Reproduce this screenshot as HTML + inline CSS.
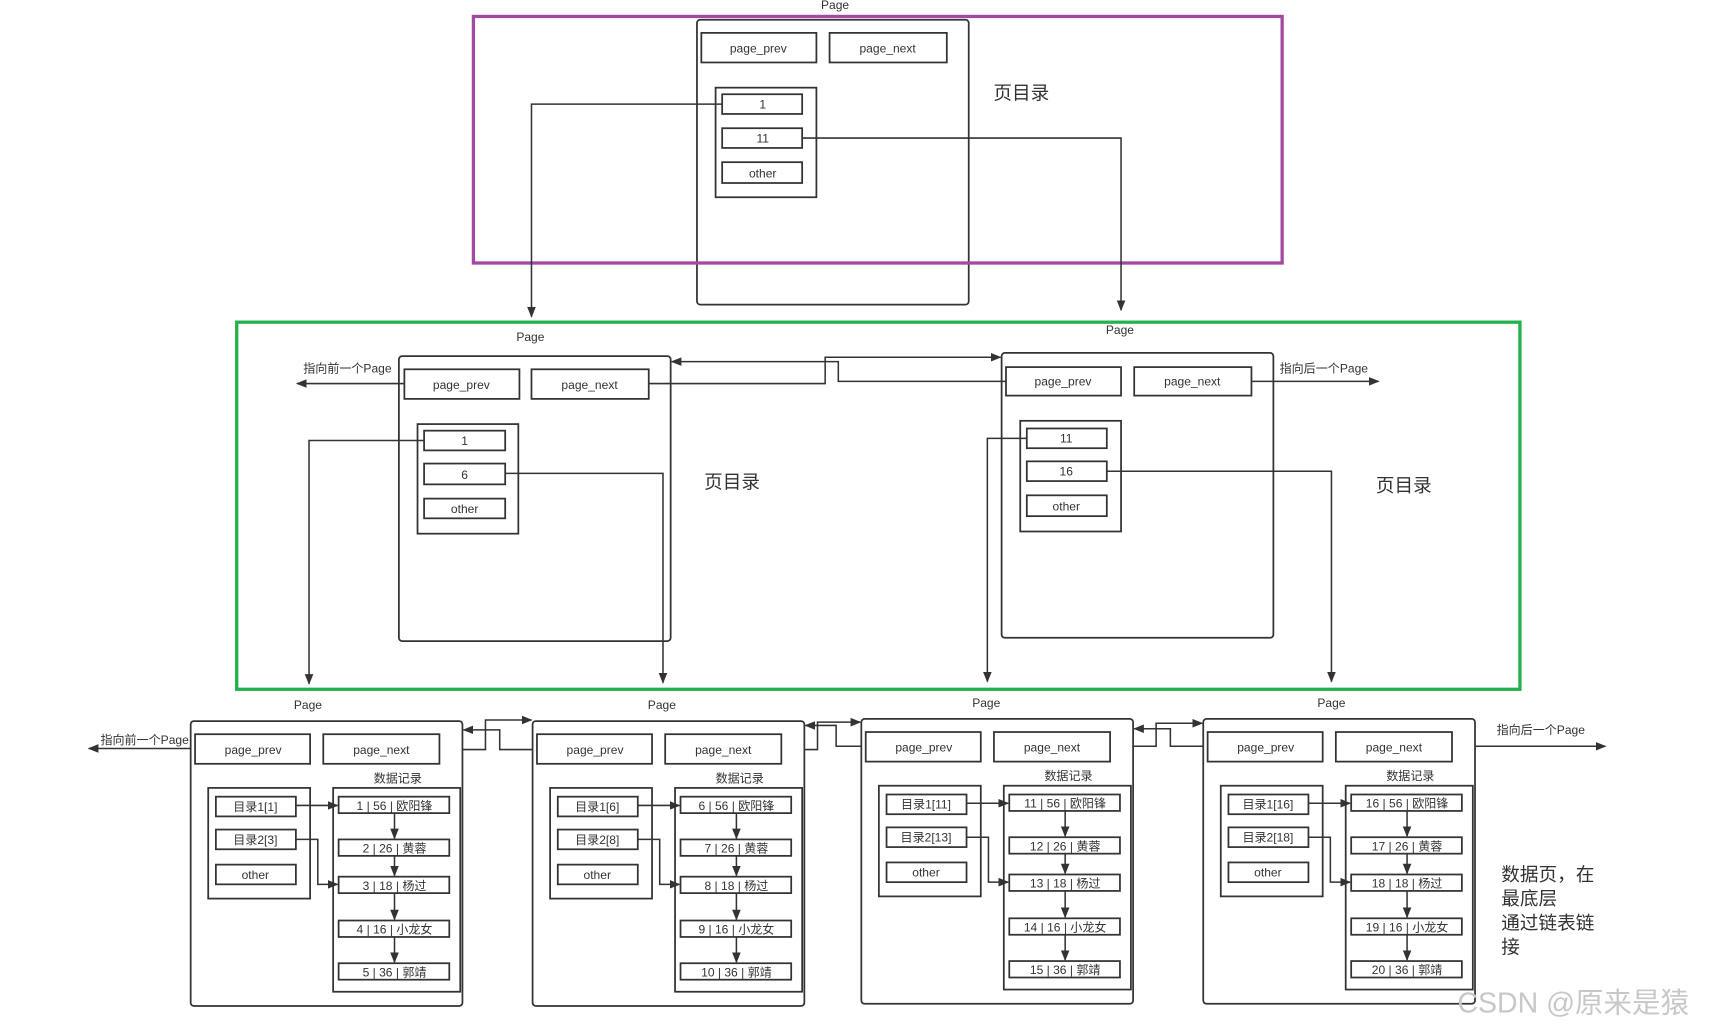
<!DOCTYPE html>
<html><head><meta charset="utf-8"><style>
html,body{margin:0;padding:0;background:#fff;width:1715px;height:1029px;overflow:hidden}
svg{display:block}
text{font-family:"Liberation Sans","Noto Sans CJK SC",sans-serif;fill:#333;text-anchor:middle}
.b{fill:#fff;stroke:#333;stroke-width:1.6}
.l{fill:none;stroke:#333;stroke-width:1.4}
.s{font-size:11px}
</style></head><body>
<svg width="1715" height="1029" viewBox="0 0 1565 939" xmlns="http://www.w3.org/2000/svg">
<defs><marker id="a" viewBox="0 0 10 10" refX="9" refY="5" markerWidth="7" markerHeight="7" orient="auto"><path d="M0,1 L10,5 L0,9 z" fill="#333"/></marker></defs>

<!-- TOP -->
<text x="762" y="8" class="s">Page</text>
<rect x="636" y="18" width="248" height="260" rx="3" class="b"/>
<rect x="640" y="30" width="105" height="27" class="b"/><text x="692" y="48" class="s">page_prev</text>
<rect x="757" y="30" width="107" height="27" class="b"/><text x="810" y="48" class="s">page_next</text>
<rect x="653" y="80" width="92" height="100" class="b"/>
<rect x="659" y="86" width="73" height="18" class="b"/><text x="696" y="99" class="s">1</text>
<rect x="659" y="117" width="73" height="18" class="b"/><text x="696" y="130" class="s">11</text>
<rect x="659" y="148" width="73" height="19" class="b"/><text x="696" y="162" class="s">other</text>
<rect x="432" y="15" width="738" height="225" fill="none" stroke="#a349a4" stroke-width="3"/>
<text x="932" y="91" style="font-size:17px">页目录</text>
<path d="M659,95 H485 V289" class="l" marker-end="url(#a)"/>
<path d="M732,126 H1023 V283" class="l" marker-end="url(#a)"/>

<!-- MIDDLE -->
<rect x="216" y="294" width="1171" height="335" fill="none" stroke="#22b14c" stroke-width="3"/>
<text x="484" y="311" class="s">Page</text>
<rect x="364" y="325" width="248" height="260" rx="3" class="b"/>
<rect x="369" y="337" width="105" height="27" class="b"/><text x="421" y="355" class="s">page_prev</text>
<rect x="485" y="337" width="107" height="27" class="b"/><text x="538" y="355" class="s">page_next</text>
<rect x="381" y="387" width="92" height="100" class="b"/>
<rect x="387" y="393" width="74" height="18" class="b"/><text x="424" y="406" class="s">1</text>
<rect x="387" y="423" width="74" height="19" class="b"/><text x="424" y="437" class="s">6</text>
<rect x="387" y="455" width="74" height="18" class="b"/><text x="424" y="468" class="s">other</text>
<text x="668" y="446" style="font-size:17px">页目录</text>

<text x="1022" y="305" class="s">Page</text>
<rect x="914" y="322" width="248" height="260" rx="3" class="b"/>
<rect x="918" y="335" width="105" height="26" class="b"/><text x="970" y="352" class="s">page_prev</text>
<rect x="1035" y="335" width="107" height="26" class="b"/><text x="1088" y="352" class="s">page_next</text>
<rect x="931" y="384" width="92" height="101" class="b"/>
<rect x="937" y="391" width="73" height="18" class="b"/><text x="973" y="404" class="s">11</text>
<rect x="937" y="421" width="73" height="18" class="b"/><text x="973" y="434" class="s">16</text>
<rect x="937" y="452" width="73" height="19" class="b"/><text x="973" y="466" class="s">other</text>
<text x="1281" y="449" style="font-size:17px">页目录</text>

<path d="M592,350 H753 V326 H913" class="l" marker-end="url(#a)"/>
<path d="M918,348 H765 V330 H613" class="l" marker-end="url(#a)"/>
<text x="317" y="340" class="s">指向前一个Page</text>
<path d="M369,350 H271" class="l" stroke-width="2" marker-end="url(#a)"/>
<text x="1208" y="340" class="s">指向后一个Page</text>
<path d="M1142,348 H1258" class="l" stroke-width="2" marker-end="url(#a)"/>
<path d="M387,402 H282 V624" class="l" marker-end="url(#a)"/>
<path d="M461,432 H605 V623" class="l" marker-end="url(#a)"/>
<path d="M937,400 H901 V622" class="l" marker-end="url(#a)"/>
<path d="M1010,430 H1215 V622" class="l" marker-end="url(#a)"/>

<!-- BOTTOM links -->
<path d="M401,684 H443 V657 H485" class="l" marker-end="url(#a)"/>
<path d="M490,684 H456 V666 H423" class="l" marker-end="url(#a)"/>
<path d="M713,684 H746 V659 H785" class="l" marker-end="url(#a)"/>
<path d="M790,681 H763 V662 H735" class="l" marker-end="url(#a)"/>
<path d="M1013,681 H1055 V660 H1097" class="l" marker-end="url(#a)"/>
<path d="M1102,681 H1068 V665 H1035" class="l" marker-end="url(#a)"/>
<text x="132" y="679" class="s">指向前一个Page</text>
<path d="M178,683 H81" class="l" stroke-width="2" marker-end="url(#a)"/>
<text x="1406" y="670" class="s">指向后一个Page</text>
<path d="M1326,681 H1465" class="l" stroke-width="2" marker-end="url(#a)"/>

<!-- page template content -->
<g id="p1">
<text x="281" y="647" class="s">Page</text>
<rect x="174" y="658" width="248" height="260" rx="3" class="b"/>
<rect x="178" y="670" width="105" height="27" class="b"/><text x="231" y="688" class="s">page_prev</text>
<rect x="295" y="670" width="106" height="27" class="b"/><text x="348" y="688" class="s">page_next</text>
<text x="363" y="714" class="s">数据记录</text>
<rect x="190" y="719" width="93" height="101" class="b"/>
<rect x="304" y="719" width="116" height="186" class="b"/>
<rect x="197" y="727" width="73" height="18" class="b"/>
<rect x="197" y="757" width="73" height="18" class="b"/>
<rect x="197" y="789" width="73" height="18" class="b"/><text x="233" y="802" class="s">other</text>
<rect x="309" y="727" width="101" height="15" class="b"/>
<rect x="309" y="766" width="101" height="15" class="b"/>
<rect x="309" y="800" width="101" height="15" class="b"/>
<rect x="309" y="840" width="101" height="15" class="b"/>
<rect x="309" y="879" width="101" height="15" class="b"/>
<path d="M270,735 H308" class="l" marker-end="url(#a)"/>
<path d="M270,766 H290 V807 H308" class="l" marker-end="url(#a)"/>
<path d="M360,742 V765" class="l" marker-end="url(#a)"/>
<path d="M360,781 V799" class="l" marker-end="url(#a)"/>
<path d="M360,815 V839" class="l" marker-end="url(#a)"/>
<path d="M360,855 V878" class="l" marker-end="url(#a)"/>
</g>
<g transform="translate(312,0)">
<text x="292" y="647" class="s">Page</text>
<rect x="174" y="658" width="248" height="260" rx="3" class="b"/>
<rect x="178" y="670" width="105" height="27" class="b"/><text x="231" y="688" class="s">page_prev</text>
<rect x="295" y="670" width="106" height="27" class="b"/><text x="348" y="688" class="s">page_next</text>
<text x="363" y="714" class="s">数据记录</text>
<rect x="190" y="719" width="93" height="101" class="b"/>
<rect x="304" y="719" width="116" height="186" class="b"/>
<rect x="197" y="727" width="73" height="18" class="b"/>
<rect x="197" y="757" width="73" height="18" class="b"/>
<rect x="197" y="789" width="73" height="18" class="b"/><text x="233" y="802" class="s">other</text>
<rect x="309" y="727" width="101" height="15" class="b"/>
<rect x="309" y="766" width="101" height="15" class="b"/>
<rect x="309" y="800" width="101" height="15" class="b"/>
<rect x="309" y="840" width="101" height="15" class="b"/>
<rect x="309" y="879" width="101" height="15" class="b"/>
<path d="M270,735 H308" class="l" marker-end="url(#a)"/>
<path d="M270,766 H290 V807 H308" class="l" marker-end="url(#a)"/>
<path d="M360,742 V765" class="l" marker-end="url(#a)"/>
<path d="M360,781 V799" class="l" marker-end="url(#a)"/>
<path d="M360,815 V839" class="l" marker-end="url(#a)"/>
<path d="M360,855 V878" class="l" marker-end="url(#a)"/>
</g>
<g transform="translate(612,-2)">
<text x="288" y="647" class="s">Page</text>
<rect x="174" y="658" width="248" height="260" rx="3" class="b"/>
<rect x="178" y="670" width="105" height="27" class="b"/><text x="231" y="688" class="s">page_prev</text>
<rect x="295" y="670" width="106" height="27" class="b"/><text x="348" y="688" class="s">page_next</text>
<text x="363" y="714" class="s">数据记录</text>
<rect x="190" y="719" width="93" height="101" class="b"/>
<rect x="304" y="719" width="116" height="186" class="b"/>
<rect x="197" y="727" width="73" height="18" class="b"/>
<rect x="197" y="757" width="73" height="18" class="b"/>
<rect x="197" y="789" width="73" height="18" class="b"/><text x="233" y="802" class="s">other</text>
<rect x="309" y="727" width="101" height="15" class="b"/>
<rect x="309" y="766" width="101" height="15" class="b"/>
<rect x="309" y="800" width="101" height="15" class="b"/>
<rect x="309" y="840" width="101" height="15" class="b"/>
<rect x="309" y="879" width="101" height="15" class="b"/>
<path d="M270,735 H308" class="l" marker-end="url(#a)"/>
<path d="M270,766 H290 V807 H308" class="l" marker-end="url(#a)"/>
<path d="M360,742 V765" class="l" marker-end="url(#a)"/>
<path d="M360,781 V799" class="l" marker-end="url(#a)"/>
<path d="M360,815 V839" class="l" marker-end="url(#a)"/>
<path d="M360,855 V878" class="l" marker-end="url(#a)"/>
</g>
<g transform="translate(924,-2)">
<text x="291" y="647" class="s">Page</text>
<rect x="174" y="658" width="248" height="260" rx="3" class="b"/>
<rect x="178" y="670" width="105" height="27" class="b"/><text x="231" y="688" class="s">page_prev</text>
<rect x="295" y="670" width="106" height="27" class="b"/><text x="348" y="688" class="s">page_next</text>
<text x="363" y="714" class="s">数据记录</text>
<rect x="190" y="719" width="93" height="101" class="b"/>
<rect x="304" y="719" width="116" height="186" class="b"/>
<rect x="197" y="727" width="73" height="18" class="b"/>
<rect x="197" y="757" width="73" height="18" class="b"/>
<rect x="197" y="789" width="73" height="18" class="b"/><text x="233" y="802" class="s">other</text>
<rect x="309" y="727" width="101" height="15" class="b"/>
<rect x="309" y="766" width="101" height="15" class="b"/>
<rect x="309" y="800" width="101" height="15" class="b"/>
<rect x="309" y="840" width="101" height="15" class="b"/>
<rect x="309" y="879" width="101" height="15" class="b"/>
<path d="M270,735 H308" class="l" marker-end="url(#a)"/>
<path d="M270,766 H290 V807 H308" class="l" marker-end="url(#a)"/>
<path d="M360,742 V765" class="l" marker-end="url(#a)"/>
<path d="M360,781 V799" class="l" marker-end="url(#a)"/>
<path d="M360,815 V839" class="l" marker-end="url(#a)"/>
<path d="M360,855 V878" class="l" marker-end="url(#a)"/>
</g>

<!-- texts for pages -->
<g class="s" style="font-size:10.5px">
<text x="233" y="740" class="s">目录1[1]</text><text x="233" y="770" class="s">目录2[3]</text>
<text x="360" y="739" class="s">1 | 56 | 欧阳锋</text><text x="360" y="778" class="s">2 | 26 | 黄蓉</text><text x="360" y="812" class="s">3 | 18 | 杨过</text><text x="360" y="852" class="s">4 | 16 | 小龙女</text><text x="360" y="891" class="s">5 | 36 | 郭靖</text>
<text x="545" y="740" class="s">目录1[6]</text><text x="545" y="770" class="s">目录2[8]</text>
<text x="672" y="739" class="s">6 | 56 | 欧阳锋</text><text x="672" y="778" class="s">7 | 26 | 黄蓉</text><text x="672" y="812" class="s">8 | 18 | 杨过</text><text x="672" y="852" class="s">9 | 16 | 小龙女</text><text x="672" y="891" class="s">10 | 36 | 郭靖</text>
<text x="845" y="738" class="s">目录1[11]</text><text x="845" y="768" class="s">目录2[13]</text>
<text x="972" y="737" class="s">11 | 56 | 欧阳锋</text><text x="972" y="776" class="s">12 | 26 | 黄蓉</text><text x="972" y="810" class="s">13 | 18 | 杨过</text><text x="972" y="850" class="s">14 | 16 | 小龙女</text><text x="972" y="889" class="s">15 | 36 | 郭靖</text>
<text x="1157" y="738" class="s">目录1[16]</text><text x="1157" y="768" class="s">目录2[18]</text>
<text x="1284" y="737" class="s">16 | 56 | 欧阳锋</text><text x="1284" y="776" class="s">17 | 26 | 黄蓉</text><text x="1284" y="810" class="s">18 | 18 | 杨过</text><text x="1284" y="850" class="s">19 | 16 | 小龙女</text><text x="1284" y="889" class="s">20 | 36 | 郭靖</text>
</g>

<g style="font-size:17px">
<text x="1370" y="804" style="text-anchor:start">数据页，在</text>
<text x="1370" y="826" style="text-anchor:start">最底层</text>
<text x="1370" y="848" style="text-anchor:start">通过链表链</text>
<text x="1370" y="870" style="text-anchor:start">接</text>
</g>
<text x="1330" y="924" style="text-anchor:start;font-size:26px;fill:#c8c8c8">CSDN @原来是猿</text>
</svg>
</body></html>
